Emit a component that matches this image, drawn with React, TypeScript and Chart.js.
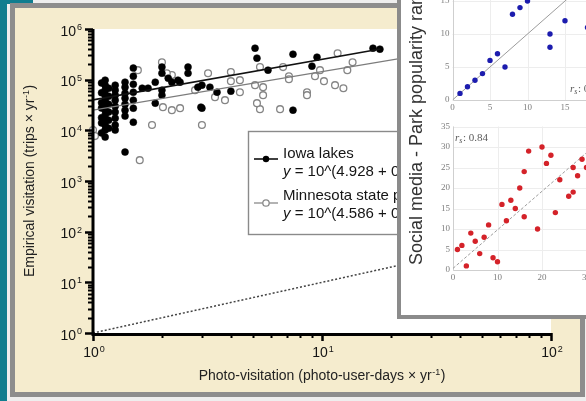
import React, { useEffect, useRef } from "react";
import { Chart, registerables } from "chart.js";

Chart.register(...registerables);

const SANS = '"Liberation Sans", Arial, Helvetica, sans-serif';
const SERIF = '"Liberation Serif", "DejaVu Serif", serif';

// ---------- Main panel: photo-visitation vs empirical visitation ----------
// Iowa lakes (filled markers)
const iowaPhoto = [
  1.13, 1.13, 1.13, 1.13, 1.13, 1.13, 1.13, 1.13, 1.13, 1.13, 1.13, 1.13,
  1.09, 1.09, 1.09, 1.09, 1.09, 1.09, 1.09,
  1.17, 1.17, 1.17, 1.17, 1.17, 1.17,
  1.25, 1.25, 1.25, 1.25, 1.25, 1.25, 1.25, 1.25, 1.25,
  1.38, 1.38, 1.38, 1.38, 1.38, 1.38, 1.38, 1.38,
  1.5, 1.5, 1.5, 1.5, 1.5, 1.5, 1.5,
  1.64, 1.74, 1.87, 1.87, 2.0, 2.0, 2.0, 2.0, 2.13, 2.35, 2.6, 2.6, 2.87, 2.96,
  2.4, 2.21, 5.1, 5.2, 7.47, 7.47, 9.51, 9.04, 5.81, 3.24, 3.48, 4.0, 2.99, 2.99,
  16.7, 17.9,
];
const iowaTrips = [
  97800, 77900, 62100, 49500, 39400, 31400, 25000, 19900, 15900, 12700, 10100, 7350,
  86000, 55000, 35000, 27500, 17800, 14000, 8900,
  67900, 47300, 32900, 22900, 15900, 11000,
  77900, 62100, 49500, 39400, 30000, 22900, 17400, 12700, 10100,
  89300, 71100, 54200, 43200, 32900, 25000, 19100, 3720,
  169000, 117000, 81500, 56600, 39400, 27400, 14500,
  67900, 67900, 89300, 34400, 62100, 49500, 134000, 177000, 107000, 97800, 177000, 134000, 71100, 28700,
  89300, 89300, 418000, 266000, 318000, 25000, 278000, 185000, 154000, 71100, 56600, 59300, 27400, 77900,
  418000, 400000,
];

// Minnesota state parks (open markers)
const minnesotaPhoto = [
  1.0, 1.02, 1.57, 2.0, 1.81, 1.6, 2.21, 2.1, 2.21, 2.4, 2.02, 2.99, 2.79, 3.18,
  4.0, 4.0, 4.38, 4.38, 3.41, 3.77, 5.1, 5.53, 5.53, 5.36, 5.36, 5.2, 6.56, 6.76,
  7.17, 7.17, 8.6, 8.6, 9.32, 9.8, 10.2, 11.4, 12.4, 11.7, 12.9, 13.6,
];
const minnesotaTrips = [
  10100, 7690, 154000, 221000, 12700, 2580, 123000, 134000, 25000, 27400, 28700, 12700, 62100, 134000,
  141000, 93400, 97800, 56600, 45200, 39400, 77900, 71100, 49500, 177000, 26200, 34400, 26200, 177000,
  117000, 102000, 56600, 49500, 117000, 154000, 93400, 77900, 67900, 333000, 154000, 221000,
];

// log10-space fits: [intercept, slope], drawn over [xStart, xEnd]
const iowaFitCoef = [4.6, 0.8];
const iowaFitRange = [1, 18];
const minnesotaFitCoef = [4.4, 0.76];
const minnesotaFitRange = [1, 100];
const oneToOneRange = [1, 100];

const xExponents = [0, 1, 2];
const yExponents = [0, 1, 2, 3, 4, 5, 6];
const seriesNames = ["Iowa lakes", "Minnesota state parks"];
const seriesEquations = [" = 10^(4.928 + 0.797 × log x)", " = 10^(4.586 + 0.729 × log x)"];
const xTitle = "Photo-visitation (photo-user-days × yr";
const yTitle = "Empirical visitation (trips × yr";

// ---------- Inset: park popularity rank comparisons ----------
const rankTopSocial = [1, 2, 3, 4, 5, 6, 7, 8, 9, 10, 13, 13, 15, 18];
const rankTopSurvey = [1, 2, 3, 4, 6, 7, 5, 13, 14, 15, 8, 10, 12, 11];
const rankBottomSocial = [
  17, 20, 22, 21, 16, 15, 24, 27, 28, 29, 30, 27, 26, 13, 11,
  14, 23, 12, 16, 8, 19, 4, 7, 5, 2, 1, 6, 9, 10, 3,
];
const rankBottomSurvey = [
  29, 30, 28, 26, 24, 20, 22, 25, 23, 27, 25, 19, 18, 17, 16,
  15, 14, 12, 13, 11, 10, 9, 8, 7, 6, 5, 4, 3, 2, 1,
];
const topTicksX = [0, 5, 10, 15];
const topTicksY = [0, 5, 10, 15];
const bottomTicksX = [0, 10, 20, 30];
const bottomTicksY = [0, 5, 10, 15, 20, 25, 30, 35];
const topRefLine = [0, 20];
const bottomRefLine = [[0, 0.4], [35, 33.3]];
const topCorrelation = "0.91";
const bottomCorrelation = "0.84";
const insetTitle = "Social media - Park popularity rank";

function pairs(xs: number[], ys: number[]) {
  return xs.map((x, i) => ({ x, y: ys[i] }));
}

function fitLine(coef: number[], range: number[]) {
  return range.map((x) => ({ x, y: Math.pow(10, coef[0] + coef[1] * Math.log10(x)) }));
}

function drawPower(ctx: CanvasRenderingContext2D, exp: string, x: number, y: number, align: string) {
  ctx.font = `14px ${SANS}`;
  const bw = ctx.measureText("10").width;
  ctx.font = `9px ${SANS}`;
  const sw = ctx.measureText(exp).width;
  const total = bw + 1 + sw;
  const x0 = align === "right" ? x - total : align === "center" ? x - total / 2 : x;
  ctx.textAlign = "left";
  ctx.textBaseline = "alphabetic";
  ctx.font = `14px ${SANS}`;
  ctx.fillText("10", x0, y);
  ctx.font = `9px ${SANS}`;
  ctx.fillText(exp, x0 + bw + 1, y - 5.5);
}

function drawTitle(ctx: CanvasRenderingContext2D, text: string, cx: number, cy: number, rotate: boolean) {
  ctx.save();
  ctx.translate(cx, cy);
  if (rotate) ctx.rotate(-Math.PI / 2);
  ctx.fillStyle = "#222";
  ctx.textBaseline = "alphabetic";
  ctx.textAlign = "left";
  ctx.font = `14px ${SANS}`;
  const w1 = ctx.measureText(text).width;
  ctx.font = `9px ${SANS}`;
  const w2 = ctx.measureText("-1").width;
  ctx.font = `14px ${SANS}`;
  const w3 = ctx.measureText(")").width;
  const total = w1 + w2 + w3 + 1;
  const x0 = -total / 2;
  ctx.fillText(text, x0, 5);
  ctx.font = `9px ${SANS}`;
  ctx.fillText("-1", x0 + w1 + 0.5, -0.5);
  ctx.font = `14px ${SANS}`;
  ctx.fillText(")", x0 + w1 + w2 + 1, 5);
  ctx.restore();
}

const mainDecor = {
  id: "mainDecor",
  beforeDraw(chart: any) {
    const { ctx, chartArea: a } = chart;
    ctx.save();
    ctx.fillStyle = "#ffffff";
    ctx.fillRect(a.left, a.top, a.right - a.left, a.bottom - a.top);
    ctx.restore();
  },
  afterDraw(chart: any) {
    const { ctx, chartArea: a, scales } = chart;
    const xs = scales.x;
    const ys = scales.y;
    ctx.save();
    ctx.strokeStyle = "#000";
    ctx.fillStyle = "#111";

    // y ticks (outside, to the left)
    const yMaxExp = yExponents[yExponents.length - 1];
    for (let d = yExponents[0]; d <= yMaxExp; d++) {
      for (let k = 1; k <= (d === yMaxExp ? 1 : 9); k++) {
        const py = Math.round(ys.getPixelForValue(k * Math.pow(10, d))) + 0.5;
        const major = k === 1;
        ctx.lineWidth = major ? 2.5 : 2;
        ctx.beginPath();
        ctx.moveTo(a.left, py);
        ctx.lineTo(a.left - (major ? 8 : 5), py);
        ctx.stroke();
      }
    }
    // x ticks (outside, below)
    const xMaxExp = xExponents[xExponents.length - 1];
    for (let d = xExponents[0]; d <= xMaxExp; d++) {
      for (let k = 1; k <= (d === xMaxExp ? 1 : 9); k++) {
        const px = Math.round(xs.getPixelForValue(k * Math.pow(10, d))) + 0.5;
        const major = k === 1;
        ctx.lineWidth = major ? 2.5 : 2;
        ctx.beginPath();
        ctx.moveTo(px, a.bottom);
        ctx.lineTo(px, a.bottom + (major ? 8 : 5));
        ctx.stroke();
      }
    }
    // axis lines
    ctx.lineWidth = 3;
    ctx.beginPath();
    ctx.moveTo(a.left, a.top);
    ctx.lineTo(a.left, a.bottom + 1.5);
    ctx.lineTo(a.right + 1, a.bottom + 1.5);
    ctx.stroke();

    // tick labels
    ctx.fillStyle = "#141414";
    yExponents.forEach((e) => {
      const py = ys.getPixelForValue(Math.pow(10, e));
      drawPower(ctx, String(e), a.left - 11, py + 6.5, "right");
    });
    xExponents.forEach((e) => {
      const px = xs.getPixelForValue(Math.pow(10, e));
      drawPower(ctx, String(e), px + 1, a.bottom + 24, "center");
    });

    // axis titles
    drawTitle(ctx, xTitle, 322, 375, false);
    drawTitle(ctx, yTitle, 29, 181, true);

    // legend
    const lx = 248.5, ly = 131.5, lw = 240, lh = 103;
    ctx.fillStyle = "#fff";
    ctx.fillRect(lx, ly, lw, lh);
    ctx.strokeStyle = "#8a8a8a";
    ctx.lineWidth = 1.4;
    ctx.strokeRect(lx, ly, lw, lh);

    ctx.strokeStyle = "#111";
    ctx.lineWidth = 1.6;
    ctx.beginPath();
    ctx.moveTo(254, 159);
    ctx.lineTo(278, 159);
    ctx.stroke();
    ctx.fillStyle = "#000";
    ctx.beginPath();
    ctx.arc(266, 159, 3.2, 0, Math.PI * 2);
    ctx.fill();

    ctx.strokeStyle = "#8a8a8a";
    ctx.lineWidth = 1.3;
    ctx.beginPath();
    ctx.moveTo(254, 203);
    ctx.lineTo(278, 203);
    ctx.stroke();
    ctx.fillStyle = "#fff";
    ctx.beginPath();
    ctx.arc(266, 203, 3.2, 0, Math.PI * 2);
    ctx.fill();
    ctx.stroke();

    const rows = [158, 200];
    rows.forEach((base, i) => {
      ctx.fillStyle = "#151515";
      ctx.textAlign = "left";
      ctx.textBaseline = "alphabetic";
      ctx.font = `15px ${SANS}`;
      ctx.fillText(seriesNames[i], 283, base);
      ctx.font = `italic 15px ${SANS}`;
      ctx.fillText("y", 283, base + 17.5);
      const yw = ctx.measureText("y").width;
      ctx.font = `15px ${SANS}`;
      ctx.fillText(seriesEquations[i], 283 + yw, base + 17.5);
    });
    ctx.restore();
  },
};

function makeMainChart(canvas: HTMLCanvasElement) {
  return new Chart(canvas, {
    type: "scatter",
    data: {
      datasets: [
        {
          data: fitLine(iowaFitCoef, iowaFitRange),
          showLine: true,
          borderColor: "#111",
          borderWidth: 1.6,
          pointRadius: 0,
          order: 0,
        },
        {
          data: fitLine(minnesotaFitCoef, minnesotaFitRange),
          showLine: true,
          borderColor: "#7c7c7c",
          borderWidth: 1.3,
          pointRadius: 0,
          order: 0,
        },
        {
          data: oneToOneRange.map((v) => ({ x: v, y: v })),
          showLine: true,
          borderColor: "#444",
          borderWidth: 1.5,
          borderDash: [2, 2],
          pointRadius: 0,
          order: 0,
        },
        {
          label: seriesNames[0],
          data: pairs(iowaPhoto, iowaTrips),
          pointRadius: 3.5,
          pointBackgroundColor: "#000",
          pointBorderColor: "#000",
          pointBorderWidth: 0.5,
          clip: false,
          order: 1,
        },
        {
          label: seriesNames[1],
          data: pairs(minnesotaPhoto, minnesotaTrips),
          pointRadius: 3.4,
          pointBackgroundColor: "#fff",
          pointBorderColor: "#858585",
          pointBorderWidth: 1.3,
          clip: false,
          order: 2,
        },
      ],
    } as any,
    options: {
      responsive: false,
      maintainAspectRatio: false,
      animation: false,
      devicePixelRatio: 1,
      events: [],
      layout: { padding: { left: 93, top: 29, right: 35, bottom: 68 } },
      plugins: { legend: { display: false }, tooltip: { enabled: false } },
      scales: {
        x: { type: "logarithmic", min: 1, max: 100, display: false },
        y: { type: "logarithmic", min: 1, max: 1e6, display: false },
      },
    } as any,
    plugins: [mainDecor],
  });
}

function insetDecor(xTicks: number[], yTicks: number[], rs: string, rsX: number, rsY: number) {
  return {
    id: "insetDecor",
    beforeDatasetsDraw(chart: any) {
      const { ctx, chartArea: a, scales } = chart;
      const xs = scales.x;
      const ys = scales.y;
      ctx.save();
      ctx.lineWidth = 1;
      ctx.strokeStyle = "#ededed";
      yTicks.forEach((v) => {
        const py = Math.round(ys.getPixelForValue(v)) + 0.5;
        ctx.beginPath();
        ctx.moveTo(a.left, py);
        ctx.lineTo(a.right, py);
        ctx.stroke();
      });
      xTicks.forEach((v) => {
        const px = Math.round(xs.getPixelForValue(v)) + 0.5;
        ctx.beginPath();
        ctx.moveTo(px, a.top);
        ctx.lineTo(px, a.bottom);
        ctx.stroke();
      });
      ctx.strokeStyle = "#cfcfcf";
      ctx.beginPath();
      ctx.moveTo(Math.round(a.left) + 0.5, a.top);
      ctx.lineTo(Math.round(a.left) + 0.5, Math.round(a.bottom) + 0.5);
      ctx.lineTo(a.right, Math.round(a.bottom) + 0.5);
      ctx.stroke();

      ctx.fillStyle = "#7d7d7d";
      ctx.font = `9px ${SERIF}`;
      ctx.textAlign = "right";
      ctx.textBaseline = "middle";
      yTicks.forEach((v) => ctx.fillText(String(v), a.left - 3, ys.getPixelForValue(v)));
      ctx.textAlign = "center";
      ctx.textBaseline = "top";
      xTicks.forEach((v) => ctx.fillText(String(v), xs.getPixelForValue(v), a.bottom + 3));

      // Spearman correlation label
      ctx.fillStyle = "#5a5a5a";
      ctx.textAlign = "left";
      ctx.textBaseline = "alphabetic";
      ctx.font = `italic 11px ${SERIF}`;
      ctx.fillText("r", rsX, rsY);
      const rw = ctx.measureText("r").width;
      ctx.font = `italic 8px ${SERIF}`;
      ctx.fillText("s", rsX + rw, rsY + 2);
      const sw = ctx.measureText("s").width;
      ctx.font = `11px ${SERIF}`;
      ctx.fillText(": " + rs, rsX + rw + sw + 0.5, rsY);
      ctx.restore();
    },
  };
}

function makeRankChart(
  canvas: HTMLCanvasElement,
  pts: { x: number; y: number }[],
  ref: { x: number; y: number }[],
  color: string,
  max: number[],
  padding: any,
  decor: any,
  dashed: boolean
) {
  return new Chart(canvas, {
    type: "scatter",
    data: {
      datasets: [
        {
          data: ref,
          showLine: true,
          borderColor: "#9c9c9c",
          borderWidth: 1,
          borderDash: dashed ? [3, 2] : [],
          pointRadius: 0,
          order: 1,
        },
        {
          data: pts,
          pointRadius: 2.7,
          pointBackgroundColor: color,
          pointBorderColor: color,
          pointBorderWidth: 0,
          clip: false,
          order: 0,
        },
      ],
    } as any,
    options: {
      responsive: false,
      maintainAspectRatio: false,
      animation: false,
      devicePixelRatio: 1,
      events: [],
      layout: { padding },
      plugins: { legend: { display: false }, tooltip: { enabled: false } },
      scales: {
        x: { type: "linear", min: 0, max: max[0], display: false },
        y: { type: "linear", min: 0, max: max[1], display: false },
      },
    } as any,
    plugins: [decor],
  });
}

function ChartCanvas(props: {
  make: (c: HTMLCanvasElement) => Chart;
  left: number;
  top: number;
  width: number;
  height: number;
  filter?: string;
}) {
  const ref = useRef<HTMLCanvasElement>(null);
  useEffect(() => {
    const chart = props.make(ref.current as HTMLCanvasElement);
    return () => chart.destroy();
  }, []);
  return (
    <canvas
      ref={ref}
      width={props.width}
      height={props.height}
      style={{
        position: "absolute",
        left: props.left,
        top: props.top,
        width: props.width,
        height: props.height,
        filter: props.filter,
      }}
    />
  );
}

export default function App() {
  return (
    <div
      style={{
        position: "fixed",
        left: 0,
        top: 0,
        width: 586,
        height: 401,
        overflow: "hidden",
        background: "#eeeeee",
      }}
    >
      {/* slide backdrop */}
      <div style={{ position: "absolute", left: 0, top: 0, width: 7, height: 401, background: "#107d8f" }} />
      <div style={{ position: "absolute", left: 0, top: 0, width: 33, height: 4, background: "#107d8f" }} />
      <div
        style={{
          position: "absolute",
          left: 10,
          top: 3,
          width: 575,
          height: 394,
          boxSizing: "border-box",
          border: "5px solid #8d8d8d",
          background: "#f5ecce",
        }}
      />

      <ChartCanvas make={makeMainChart} left={0} top={0} width={586} height={401} />

      {/* inset panel */}
      <div
        style={{
          position: "absolute",
          left: 397,
          top: -10,
          width: 200,
          height: 329,
          boxSizing: "border-box",
          border: "4px solid #8b8b8b",
          background: "#ffffff",
        }}
      />
      <ChartCanvas
        make={(c) =>
          makeRankChart(
            c,
            pairs(rankTopSocial, rankTopSurvey),
            topRefLine.map((v) => ({ x: v, y: v })),
            "#1c1cae",
            [20, 20],
            { left: 51.5, top: 8, right: 18.5, bottom: 20 },
            insetDecor(topTicksX, topTicksY, topCorrelation, 169, 132),
            false
          )
        }
        left={401}
        top={-40}
        width={220}
        height={160}
        filter="blur(0.5px)"
      />
      <ChartCanvas
        make={(c) =>
          makeRankChart(
            c,
            pairs(rankBottomSocial, rankBottomSurvey),
            bottomRefLine.map((p) => ({ x: p[0], y: p[1] })),
            "#d42229",
            [35, 35],
            { left: 52, top: 14.5, right: 12.25, bottom: 17 },
            insetDecor(bottomTicksX, bottomTicksY, bottomCorrelation, 54, 29),
            true
          )
        }
        left={401}
        top={112}
        width={220}
        height={175}
        filter="blur(0.5px)"
      />
      <div
        style={{
          position: "absolute",
          left: 407,
          top: 265,
          transformOrigin: "0 0",
          transform: "rotate(-90deg)",
          font: `18px ${SANS}`,
          lineHeight: "18px",
          color: "#333",
          whiteSpace: "nowrap",
          filter: "blur(0.4px)",
        }}
      >
        {insetTitle}
      </div>
    </div>
  );
}
